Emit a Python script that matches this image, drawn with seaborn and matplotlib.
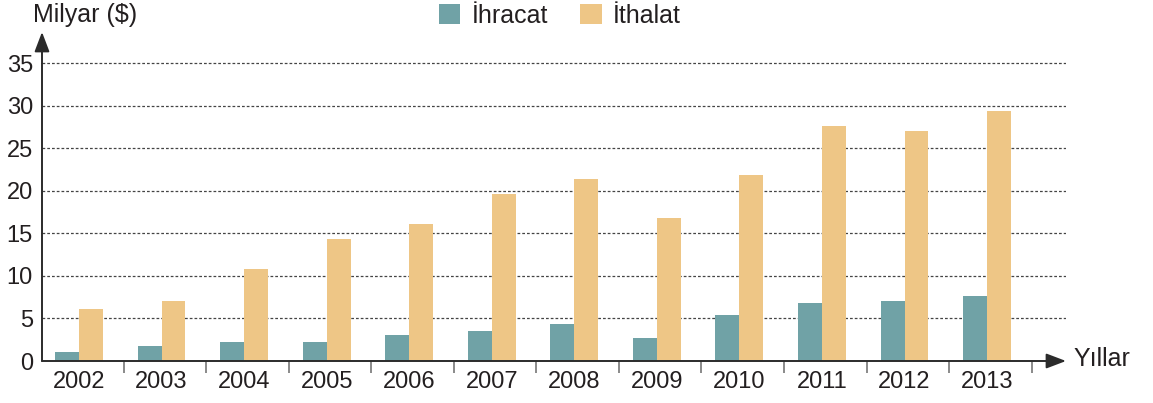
import matplotlib
matplotlib.use("Agg")
import matplotlib.pyplot as plt
import seaborn as sns
import pandas as pd

# Yıllara göre ihracat ve ithalat (milyar $)
years = ["2002", "2003", "2004", "2005", "2006", "2007",
         "2008", "2009", "2010", "2011", "2012", "2013"]
ihracat = [1.1, 1.8, 2.2, 2.2, 3.1, 3.5, 4.4, 2.7, 5.4, 6.8, 7.1, 7.6]
ithalat = [6.1, 7.1, 10.8, 14.3, 16.1, 19.6, 21.4, 16.8, 21.9, 27.6, 27.0, 29.4]
series = ["İhracat", "İthalat"]
y_ticks = [0, 5, 10, 15, 20, 25, 30, 35]

colors = {"İhracat": "#70a2a6", "İthalat": "#eec686"}
text_color = "#231f20"
axis_color = "#2b2b2b"

df = pd.DataFrame({
    "Yıl": years * 2,
    "Seri": [series[0]] * len(years) + [series[1]] * len(years),
    "Değer": ihracat + ithalat,
})

sns.set_theme(style="white")
plt.rcParams["font.family"] = ["Liberation Sans", "DejaVu Sans"]

W, H = 1153, 403
fig = plt.figure(figsize=(W / 100, H / 100), dpi=100)
ax = fig.add_axes([42 / W, 1 - 361 / H, (1066 - 42) / W, (361 - 32) / H])

sns.barplot(data=df, x="Yıl", y="Değer", hue="Seri", palette=colors,
            width=0.58, saturation=1, ax=ax, linewidth=0, zorder=3)

ax.set_xlim(-0.448, 11.956)
ax.set_ylim(0, 38.7)
ax.set_xlabel("")
ax.set_ylabel("")

# dotted horizontal guides (none at zero)
for v in y_ticks[1:]:
    ax.axhline(v, color="#444444", lw=0.9, ls=(0, (2.2, 1.6)), zorder=1)

ax.set_yticks(y_ticks)
ax.set_yticklabels([str(v) for v in y_ticks], fontsize=17, color=text_color)
ax.tick_params(axis="y", length=0, pad=6.5)

ax.set_xticks(range(len(years)))
ax.set_xticklabels(years, fontsize=17, color=text_color)
ax.tick_params(axis="x", which="major", bottom=True, length=0, pad=7)
# separator marks between the years
ax.set_xticks([i + 0.54 for i in range(len(years))], minor=True)
ax.tick_params(axis="x", which="minor", bottom=True, length=8.6, width=1.2,
               color="#777777", direction="out")

for s in ax.spines.values():
    s.set_visible(False)

# axis lines with arrow heads
arrow = dict(arrowstyle="-|>,head_length=1.0,head_width=0.38",
             color=axis_color, lw=1.4, mutation_scale=12,
             shrinkA=0, shrinkB=0)
ax.annotate("", xy=(0, 1), xytext=(0, 0), xycoords="axes fraction",
            textcoords="axes fraction", arrowprops=arrow, annotation_clip=False)
ax.annotate("", xy=(1, 0), xytext=(0, 0), xycoords="axes fraction",
            textcoords="axes fraction", arrowprops=arrow, annotation_clip=False)

fig.text(33 / W, 1 - 15 / H, "Milyar ($)", fontsize=18, color=text_color,
         ha="left", va="center")
fig.text(1073 / W, 1 - 359 / H, "Yıllar", fontsize=18, color=text_color,
         ha="left", va="center")

handles, labels = ax.get_legend_handles_labels()
if ax.get_legend() is not None:
    ax.get_legend().remove()
fig.legend(handles, labels, loc="center left",
           bbox_to_anchor=(439 / W, 1 - 16 / H), ncol=2, frameon=False,
           fontsize=18, handlelength=0.85, handleheight=0.85,
           handletextpad=0.45, columnspacing=1.3, borderpad=0,
           borderaxespad=0, labelcolor=text_color)

fig.savefig("out.png", dpi=100)
